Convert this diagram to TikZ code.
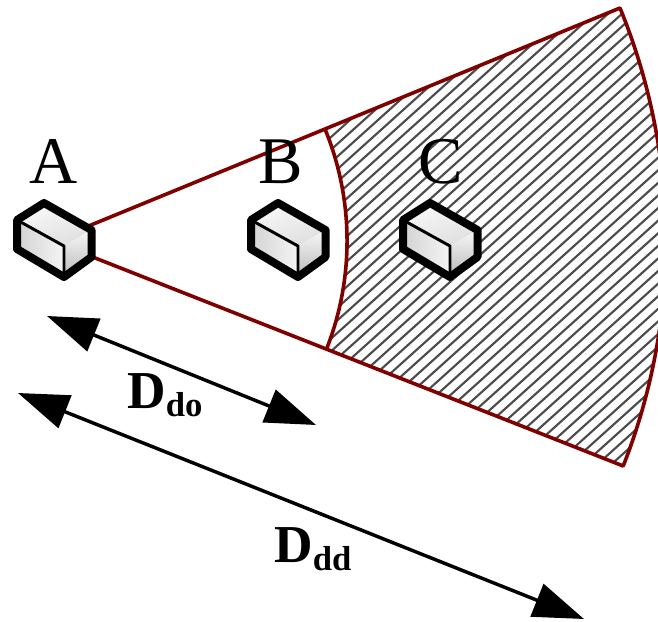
\documentclass[tikz,border=0pt]{standalone}
\usepackage{fontspec}
\setmainfont{Liberation Serif}
\usetikzlibrary{arrows.meta}

\begin{document}
\begin{tikzpicture}[
    x=0.75pt, y=0.75pt,
    edge/.style={draw=red!50!black, line width=2.7pt, line join=round},
    hatch/.style={draw=black!70, line width=1.6pt},
    dim/.style={line width=2.6pt, {Triangle[length=38pt, width=26pt]}-{Triangle[length=38pt, width=26pt]}},
    letter/.style={font=\fontsize{50}{50}\selectfont, inner sep=0pt, anchor=base},
    dimlabel/.style={font=\fontsize{40}{40}\selectfont\bfseries, inner sep=0pt, anchor=base west},
    device/.pic={
      % faces
      \fill[white] (-47,26) -- (-20,43) -- (27.5,16) -- (27.5,-11) -- (0,-31) -- (-47,-3) -- cycle;
      \shade[top color=gray!5, bottom color=gray!25, shading angle=20]
        (0,0) -- (-47,26) -- (-20,43) -- (27.5,16) -- cycle;
      \shade[left color=gray!35, right color=gray!8]
        (0,0) -- (-47,26) -- (-47,-3) -- (0,-31) -- cycle;
      \shade[top color=gray!5, bottom color=gray!55]
        (0,0) -- (27.5,16) -- (27.5,-11) -- (0,-31) -- cycle;
      % outline
      \draw[line width=6pt, line join=round]
        (-47,26) -- (-20,43) -- (27.5,16) -- (27.5,-11) -- (0,-31) -- (-47,-3) -- cycle;
      \draw[line width=2.2pt, line join=round] (-47,26) -- (0,0) -- (0,-31);
    }
  ]
  \clip (0,0) rectangle (658,-622);

  % Sector corners
  \coordinate (apex) at (52,-241);
  \coordinate (innertop) at (325,-129);
  \coordinate (innerbot) at (326.5,-349);
  \coordinate (outertop) at (620,-8);
  \coordinate (outerbot) at (624,-466);

  % Hatched band
  \begin{scope}
    \clip (innertop) -- (outertop) arc[start angle=22.3, end angle=-21.5, radius=614]
      -- (innerbot) arc[start angle=-21.5, end angle=22.3, radius=295] -- cycle;
    \foreach \k in {-400,-386,...,700}
      \draw[hatch] (\k,-480) -- ++(560,504);
  \end{scope}

  % Sector outline
  \draw[edge] (apex) -- (outertop) arc[start angle=22.3, end angle=-21.5, radius=614] -- (apex);
  \draw[edge] (innertop) arc[start angle=22.3, end angle=-21.5, radius=295];

  % Devices
  \pic at (64,-246) {device};
  \pic at (298,-246) {device};
  \pic at (450,-246) {device};

  % Letters
  \node[letter] (labela) at (54,-183) {A};
  \node[letter] (labelb) at (281,-183) {B};
  \node[letter] (labelc) at (441,-183) {C};

  % Distances
  \coordinate (dostart) at (47,-316);
  \coordinate (doend) at (316,-425);
  \coordinate (ddstart) at (18,-393);
  \coordinate (ddend) at (584,-619);
  \draw[dim] (dostart) -- (doend);
  \draw[dim] (ddstart) -- (ddend);
  \node[dimlabel] (labeldo) at (127,-408) {D\raisebox{-6pt}{\fontsize{26}{26}\selectfont do}};
  \node[dimlabel] (labeldd) at (274,-562) {D\raisebox{-6pt}{\fontsize{26}{26}\selectfont dd}};
\end{tikzpicture}
\end{document}
